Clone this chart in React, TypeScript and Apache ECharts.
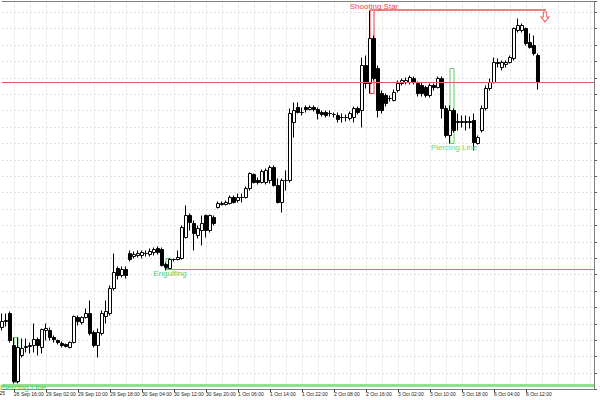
import React, { useEffect, useRef } from "react";
import * as echarts from "echarts";

// Trading sessions (hourly bars, 01:00-22:00 each day)
const DAYS = ["26 Sep", "29 Sep", "30 Sep", "1 Oct", "2 Oct", "3 Oct", "6 Oct", "7 Oct"];
const FIRST_HOUR = [13, 1, 1, 1, 1, 1, 1, 1];
const LAST_HOUR = 22;
const SLOTS = 149;

// OHLC (price units)
const opens = [
  62, 68, 76, 44, 8, 34, 42, 43, 44, 50,
  42, 59, 59, 52, 49, 46, 45, 42, 47, 72,
  67, 72, 76, 57, 44, 56, 73, 76, 101, 121,
  114, 120, 136, 133, 134, 134, 136, 135, 137, 141,
  140, 125, 121, 130, 130, 131, 152, 174, 166, 154,
  159, 174, 159, 172, 182, 185, 185, 186, 192, 189,
  192, 192, 201, 215, 209, 207, 207, 209, 222, 204,
  187, 209, 209, 267, 282, 277, 282, 280, 282, 280,
  277, 277, 276, 275, 274, 272, 272, 271, 272, 281,
  279, 324, 306, 351, 321, 296, 294, 291, 289, 299,
  306, 307, 307, 311, 306, 304, 302, 294, 304, 302,
  311, 281, 254, 279, 267, 267, 267, 268, 269, 246,
  259, 281, 301, 307, 327, 322, 325, 327, 331, 359,
  359, 361, 347, 344, 334,
];
const closes = [
  68, 69, 49, 8, 42, 41, 43, 44, 50, 44,
  60, 61, 52, 50, 47, 44, 43, 47, 73, 68,
  72, 76, 56, 44, 57, 76, 78, 101, 117, 114,
  120, 114, 130, 135, 136, 137, 136, 138, 140, 137,
  124, 122, 130, 130, 132, 162, 174, 167, 156, 161,
  166, 159, 174, 166, 186, 186, 187, 192, 187, 192,
  192, 201, 216, 207, 207, 218, 219, 222, 204, 187,
  209, 209, 276, 279, 277, 277, 280, 282, 280, 276,
  275, 274, 276, 275, 270, 272, 272, 276, 281, 277,
  324, 306, 351, 311, 279, 279, 286, 291, 297, 306,
  309, 309, 312, 307, 296, 296, 294, 304, 302, 311,
  281, 254, 279, 259, 268, 268, 268, 267, 247, 252,
  281, 301, 307, 327, 326, 327, 327, 332, 361, 364,
  364, 346, 342, 336, 307,
];
const lows = [
  59, 63, 47, 6, 6, 32, 37, 36, 37, 34,
  36, 49, 49, 47, 45, 42, 42, 41, 46, 64,
  65, 71, 54, 42, 32, 54, 66, 74, 99, 110,
  112, 111, 128, 131, 132, 131, 133, 133, 134, 135,
  123, 119, 120, 128, 129, 130, 151, 159, 139, 151,
  144, 152, 157, 164, 181, 184, 184, 185, 186, 187,
  187, 191, 199, 206, 205, 206, 205, 206, 203, 186,
  177, 199, 207, 252, 276, 274, 277, 279, 278, 270,
  273, 272, 273, 272, 267, 267, 268, 269, 267, 275,
  262, 301, 296, 309, 272, 276, 283, 288, 288, 297,
  304, 305, 305, 305, 293, 293, 292, 292, 299, 301,
  271, 252, 246, 257, 259, 262, 259, 261, 239, 245,
  257, 279, 299, 306, 322, 319, 322, 326, 329, 357,
  357, 344, 341, 334, 300,
];
const highs = [
  76, 76, 78, 52, 52, 51, 51, 47, 66, 52,
  61, 66, 62, 54, 50, 48, 46, 48, 74, 74,
  73, 81, 89, 59, 61, 79, 89, 104, 136, 123,
  123, 123, 139, 138, 139, 139, 139, 141, 142, 143,
  142, 127, 131, 131, 139, 164, 184, 176, 169, 164,
  174, 175, 175, 174, 188, 188, 189, 194, 194, 196,
  196, 203, 217, 216, 212, 220, 221, 224, 224, 211,
  211, 219, 281, 287, 287, 282, 284, 284, 284, 282,
  279, 279, 279, 277, 277, 276, 275, 278, 283, 283,
  332, 334, 379, 354, 324, 299, 296, 294, 300, 309,
  311, 312, 314, 313, 308, 307, 304, 306, 306, 313,
  313, 284, 284, 281, 276, 274, 274, 273, 276, 254,
  284, 304, 311, 332, 331, 329, 329, 334, 362, 371,
  366, 362, 356, 354, 336,
];

// Pattern annotations
const patterns = [
  { name: "Piercing Line", bar: 3, high: 52, low: 7, color: "#66cc66", text: "#48cc48", labelBar: 5, labelY: 2.5, dx: 1 },
  { name: "Engulfing", bar: 41, high: 131, low: 121, color: "#55bb55", text: "#55cc66", labelBar: 42, labelY: 116, dx: 0 },
  { name: "Shooting Star", bar: 92, high: 379, low: 296, color: "#e04848", text: "#f04848", labelBar: 93, labelY: 383, dx: 0 },
  { name: "Piercing Line", bar: 112, high: 321, low: 246, color: "#66cc66", text: "#6fd66f", labelBar: 113, labelY: 242, dx: 0 },
];
const engulfLevel = 120;
const piercingLevel = 4;
const starLevel = 379.5;
const starLineEnd = 136;
const arrowBar = 136;
const arrowY = 372.5;

function buildCategories(): string[] {
  const out: string[] = [];
  for (let d = 0; d < DAYS.length && out.length < SLOTS; d++) {
    for (let h = FIRST_HOUR[d]; h <= LAST_HOUR && out.length < SLOTS; h++) {
      out.push(`${DAYS[d]} ${String(h).padStart(2, "0")}:00`);
    }
  }
  return out;
}

export default function App() {
  const ref = useRef<HTMLDivElement>(null);
  useEffect(() => {
    if (!ref.current) return;
    const chart = echarts.init(ref.current, null, { renderer: "svg" });
    const categories = buildCategories();
    const n = opens.length;
    const data = opens.map((o, i) => [o, closes[i], lows[i], highs[i]]);
    const lastClose = closes[n - 1];
    const labelInterval = (index: number) => index % 8 === 3 && index < n;
    const gridInterval = (index: number) => index % 4 === 3;
    const font = "Liberation Sans";
    const gridLine = { color: "#e2e2e2", type: [2, 2], width: 1 };

    chart.setOption({
      animation: false,
      backgroundColor: "#ffffff",
      grid: { left: 2, right: 6, top: 1.5, bottom: 10.5 },
      xAxis: [
        {
          type: "category",
          data: categories,
          boundaryGap: false,
          axisLine: { show: true, lineStyle: { color: "#808080", width: 1 } },
          axisTick: { show: true, interval: labelInterval, length: 3, lineStyle: { color: "#404040" } },
          axisLabel: {
            show: true,
            interval: labelInterval,
            fontSize: 5,
            color: "#202020",
            align: "left",
            margin: 2,
            fontFamily: font,
          },
          splitLine: { show: true, interval: gridInterval, lineStyle: gridLine },
        },
        {
          type: "category",
          data: categories,
          boundaryGap: false,
          position: "top",
          axisLine: { show: true, lineStyle: { color: "#808080", width: 1 } },
          axisTick: { show: false },
          axisLabel: { show: false },
          splitLine: { show: false },
        },
      ],
      yAxis: {
        type: "value",
        position: "right",
        min: 0,
        max: 388,
        interval: 16.4,
        axisLine: { show: true, lineStyle: { color: "#808080" } },
        axisTick: { show: true, length: 3, lineStyle: { color: "#606060" } },
        axisLabel: { show: false },
        splitLine: { show: true, lineStyle: gridLine },
      },
      graphic: [
        {
          type: "text",
          style: { x: 5, y: 393, text: "26 Sep 2025", align: "right", verticalAlign: "middle", fontSize: 5, fill: "#202020", fontFamily: font },
        },
      ],
      series: [
        {
          type: "candlestick",
          data,
          barWidth: 3,
          itemStyle: {
            color: "#ffffff",
            color0: "#000000",
            borderColor: "#000000",
            borderColor0: "#000000",
            borderWidth: 1,
          },
          markLine: {
            silent: true,
            z: 3,
            symbol: ["none", "none"],
            label: { show: false },
            data: [
              { yAxis: lastClose, lineStyle: { color: "#e06060", width: 1, type: "solid" } },
              [
                { coord: [patterns[1].bar, engulfLevel], lineStyle: { color: "#55bb55", width: 1, type: "solid" } },
                { coord: [SLOTS - 1, engulfLevel] },
              ],
              [
                { coord: [0, piercingLevel], lineStyle: { color: "#90e090", width: 3, type: "solid" } },
                { coord: [SLOTS - 1, piercingLevel] },
              ],
              [
                { coord: [patterns[2].bar, starLevel], lineStyle: { color: "#f08080", width: 2, type: "solid" } },
                { coord: [starLineEnd, starLevel] },
              ],
            ],
          },
          markArea: {
            silent: true,
            data: patterns.map((p) => [
              {
                coord: [p.bar, p.high],
                itemStyle: { color: "rgba(0,0,0,0)", borderColor: p.color, borderWidth: 1 },
              },
              { coord: [p.bar + 1, p.low] },
            ]),
          },
          markPoint: {
            silent: true,
            z: 20,
            data: [
              ...patterns.map((p) => ({
                coord: [p.labelBar, p.labelY],
                symbol: "circle",
                symbolSize: 1,
                itemStyle: { color: "rgba(0,0,0,0)" },
                label: {
                  show: true,
                  position: "inside",
                  offset: [p.dx, 0],
                  formatter: p.name,
                  color: p.text,
                  fontSize: 8,
                  fontFamily: font,
                },
              })),
              {
                coord: [arrowBar, arrowY],
                symbol: "path://M3,0 L7,0 L7,5 L10,5 L5,10 L0,5 L3,5 Z",
                symbolSize: [8, 10],
                symbolOffset: [-1, 0],
                itemStyle: { color: "#ffffff", borderColor: "#f06060", borderWidth: 1 },
                label: { show: false },
              },
            ],
          },
        },
      ],
    });
    return () => chart.dispose();
  }, []);
  return (
    <div
      ref={ref}
      style={{ position: "fixed", left: 0, top: 0, width: 600, height: 400 }}
    />
  );
}
